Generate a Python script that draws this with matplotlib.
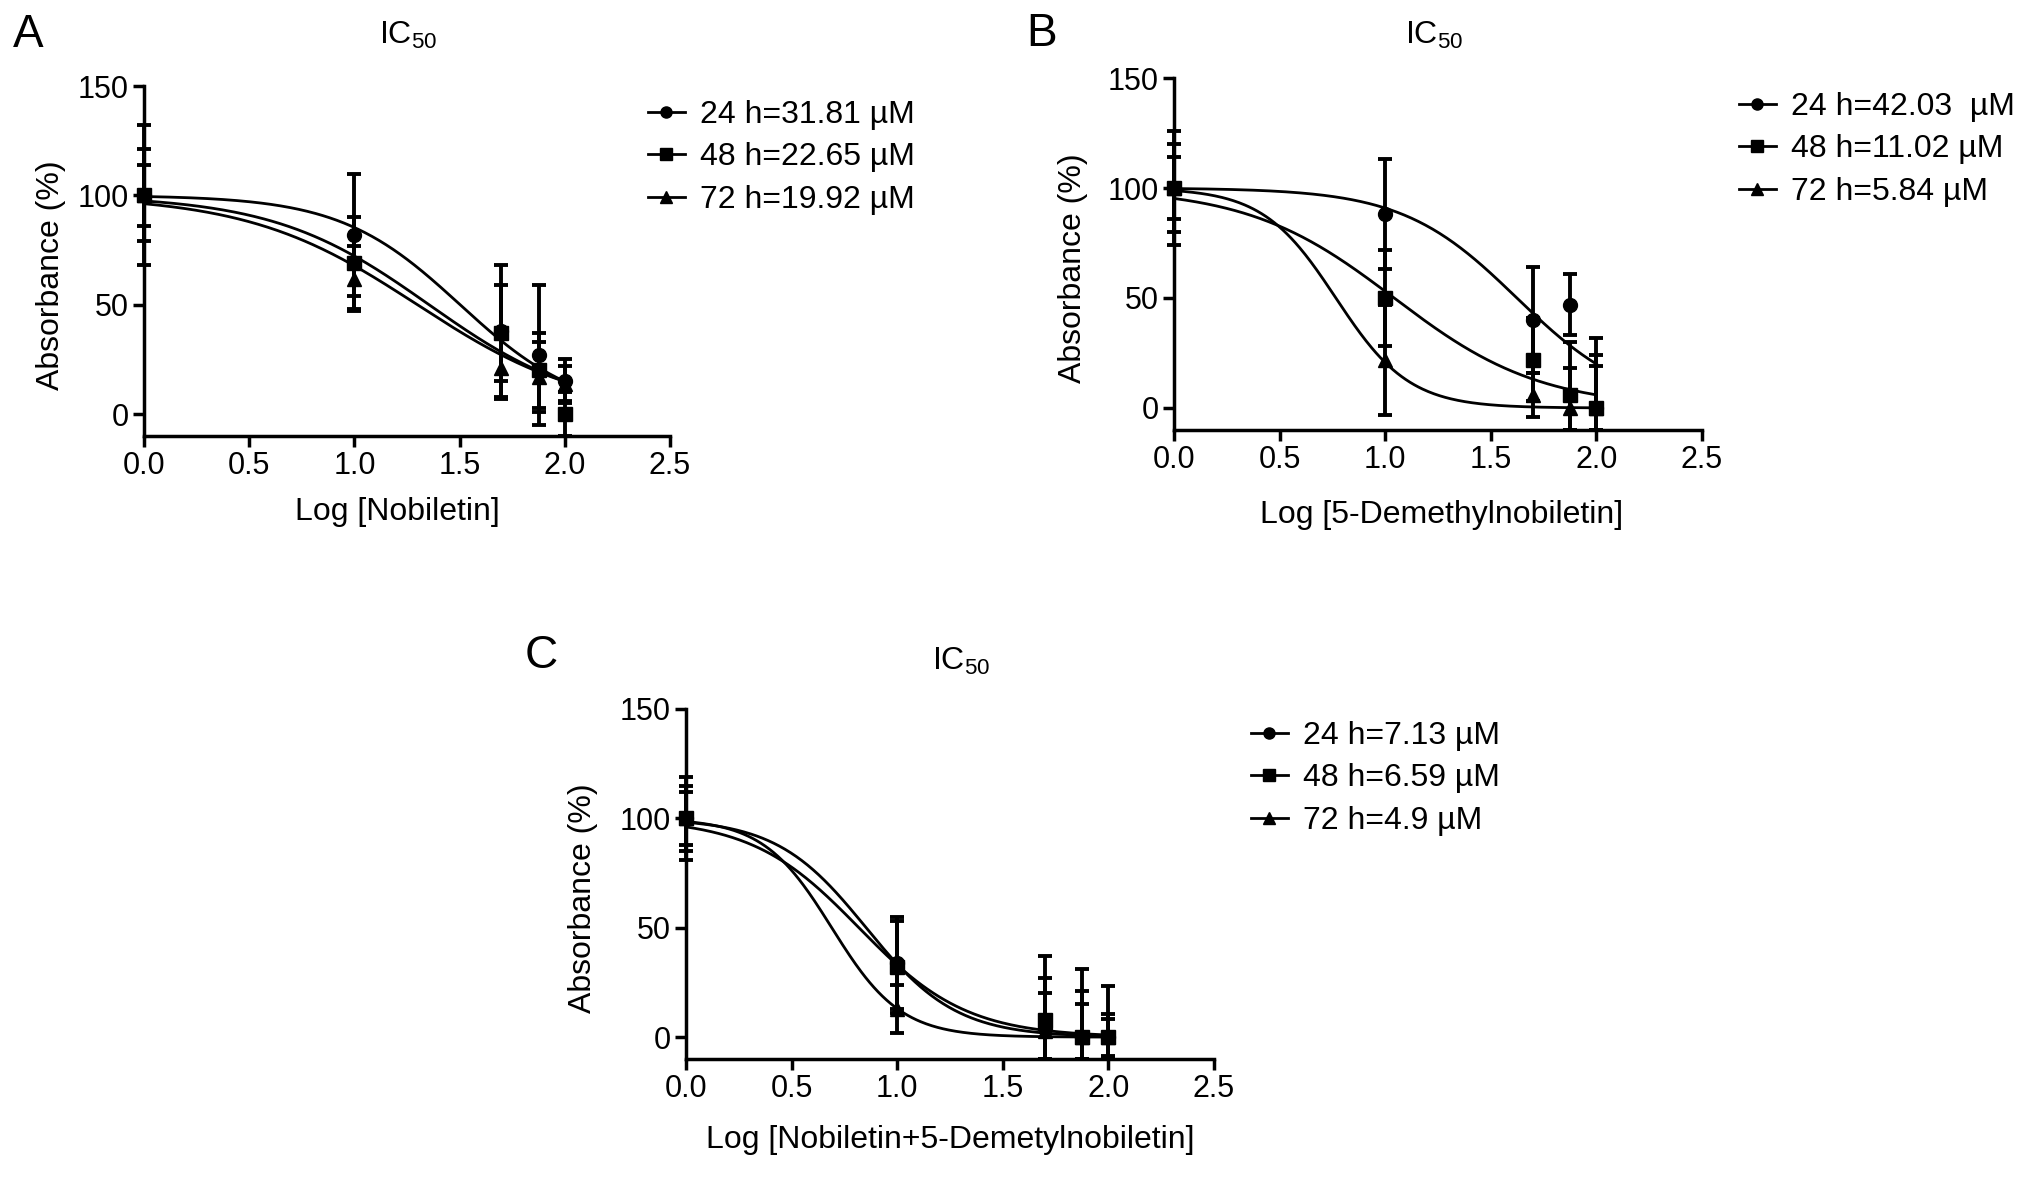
import numpy as np
import matplotlib.pyplot as plt
from matplotlib.lines import Line2D

plt.rcParams['font.family'] = ['Liberation Sans', 'DejaVu Sans']
plt.rcParams['mathtext.fontset'] = 'custom'
plt.rcParams['mathtext.rm'] = 'Liberation Sans'
plt.rcParams['mathtext.default'] = 'regular'

# concentrations (uM), plotted as log10
dose = [1, 10, 50, 75, 100]
hours = ['24 h', '48 h', '72 h']
markers = ['o', 's', '^']

x_ticks = [0.0, 0.5, 1.0, 1.5, 2.0, 2.5]
x_ticklabels = ['0.0', '0.5', '1.0', '1.5', '2.0', '2.5']
y_ticks = [0, 50, 100, 150]

# A - Nobiletin
a_mean = [[100, 82, 38, 27, 15], [100, 69, 37, 20, 0], [100, 62, 21, 17, 14]]
a_sd = [[32, 28, 30, 32, 10], [21, 21, 22, 17, 10], [14, 15, 14, 16, 8]]
a_ic50 = [31.81, 22.65, 19.92]
a_hill = [1.52, 1.17, 1.08]
a_legend = ['24 h=31.81 µM', '48 h=22.65 µM', '72 h=19.92 µM']

# B - 5-Demethylnobiletin
b_mean = [[100, 88, 40, 47, 0], [100, 50, 22, 6, 0], [100, 22, 6, 0, 0]]
b_sd = [[20, 25, 24, 14, 32], [26, 22, 19, 24, 19], [14, 25, 10, 18, 24]]
b_ic50 = [42.03, 11.02, 5.84]
b_hill = [1.6, 1.25, 2.5]
b_legend = ['24 h=42.03  µM', '48 h=11.02 µM', '72 h=5.84 µM']

# C - Nobiletin + 5-Demethylnobiletin
c_mean = [[100, 34, 4, 0, 0], [100, 32, 8, 0, 0], [100, 13, 3, 0, 0]]
c_sd = [[19, 21, 33, 31, 23.5], [15, 21, 19, 21, 10.6], [12, 11, 17, 15, 8.4]]
c_ic50 = [7.13, 6.59, 4.9]
c_hill = [2.04, 1.70, 2.66]
c_legend = ['24 h=7.13 µM', '48 h=6.59 µM', '72 h=4.9 µM']

W, H = 2032, 1181
fig = plt.figure(figsize=(W / 100, H / 100), dpi=100)

YMIN, YMAX = -10, 150


def px_axes(left, top, right, bottom):
    return fig.add_axes([left / W, 1 - bottom / H, (right - left) / W, (bottom - top) / H])


def draw_panel(ax, means, sds, ic50s, hills, xlabel, ylab_dx, xlab_dx, xlab_dy):
    logx = np.log10(dose)
    xs = np.linspace(0, 2, 300)
    for m, s, ic, h, mk in zip(means, sds, ic50s, hills, markers):
        m = np.array(m, dtype=float)
        s = np.array(s, dtype=float)
        low = np.minimum(s, m - YMIN)  # bars stop at the x axis
        cont = ax.errorbar(logx, m, yerr=[low, s], fmt=mk, color='k', ms=10,
                           elinewidth=2.8, capsize=5, capthick=2.8, zorder=3)
        for art in cont.get_children():
            art.set_clip_on(False)
        fit = 100 / (1 + 10 ** ((xs - np.log10(ic)) * h))
        ax.plot(xs, fit, color='k', lw=2, zorder=2)

    ax.set_xlim(0, 2.5)
    ax.set_ylim(YMIN, YMAX)
    ax.set_xticks(x_ticks)
    ax.set_xticklabels(x_ticklabels)
    ax.set_yticks(y_ticks)
    ax.spines['top'].set_visible(False)
    ax.spines['right'].set_visible(False)
    for sp in ('left', 'bottom'):
        ax.spines[sp].set_linewidth(2.5)
    ax.tick_params(direction='out', length=8, width=2.5, labelsize=22, pad=3)

    bb = ax.get_position()
    wpx, hpx = bb.width * W, bb.height * H
    ax.set_xlabel(xlabel, fontsize=23)
    ax.set_ylabel('Absorbance (%)', fontsize=23)
    ax.yaxis.set_label_coords(-ylab_dx / wpx, 0.46)
    ax.xaxis.set_label_coords(0.5 + xlab_dx / wpx, -xlab_dy / hpx)


def add_legend(labels, x, y):
    handles = [Line2D([], [], color='k', lw=2, marker=mk, ms=8) for mk in markers]
    fig.legend(handles, labels, loc='upper left', bbox_to_anchor=(x / W, 1 - y / H),
               frameon=False, borderpad=0, borderaxespad=0, handlelength=1.15,
               handletextpad=0.47, labelspacing=0.39, fontsize=23)


axA = px_axes(144, 86, 670, 436)
axB = px_axes(1174, 78, 1702, 430)
axC = px_axes(686, 709, 1214, 1059)

draw_panel(axA, a_mean, a_sd, a_ic50, a_hill, 'Log [Nobiletin]', 78, -10, 61)
draw_panel(axB, b_mean, b_sd, b_ic50, b_hill, 'Log [5-Demethylnobiletin]', 86, 4, 70)
draw_panel(axC, c_mean, c_sd, c_ic50, c_hill, 'Log [Nobiletin+5-Demetylnobiletin]', 88, 0, 66)

add_legend(a_legend, 648, 100)
add_legend(b_legend, 1739, 92)
add_legend(c_legend, 1251, 721)

# titles and panel letters
fig.text(408 / W, 1 - 44 / H, 'IC$_{50}$', ha='center', va='baseline', fontsize=23)
fig.text(1434 / W, 1 - 44 / H, 'IC$_{50}$', ha='center', va='baseline', fontsize=23)
fig.text(961 / W, 1 - 670 / H, 'IC$_{50}$', ha='center', va='baseline', fontsize=23)

fig.text(13 / W, 1 - 47 / H, 'A', ha='left', va='baseline', fontsize=33)
fig.text(1026 / W, 1 - 46 / H, 'B', ha='left', va='baseline', fontsize=33)
fig.text(525 / W, 1 - 668 / H, 'C', ha='left', va='baseline', fontsize=33)

fig.savefig('out.png', dpi=100)
